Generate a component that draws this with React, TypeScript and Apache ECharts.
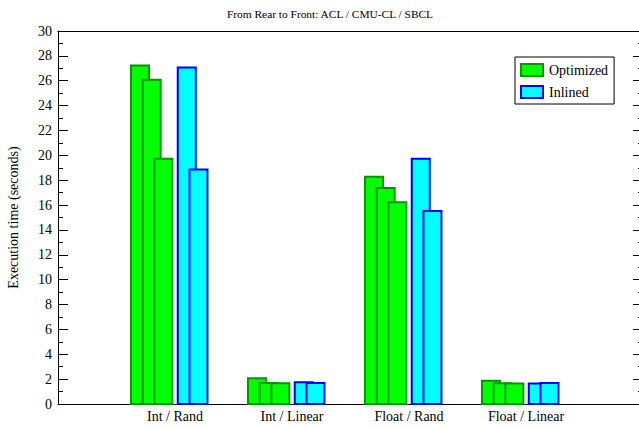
import React, { useEffect, useRef } from "react";
import * as echarts from "echarts";

// Benchmark categories along the x axis
const categories = ["Int / Rand", "Int / Linear", "Float / Rand", "Float / Linear"];

// Execution times in seconds, rear to front: ACL / CMU-CL / SBCL
const optimizedACL = [27.3, 2.15, 18.35, 1.96];
const optimizedCMUCL = [26.15, 1.77, 17.45, 1.74];
const optimizedSBCL = [19.8, 1.75, 16.3, 1.72];
const inlinedA = [27.15, 1.83, 19.8, 1.72];
const inlinedB = [18.95, 1.77, 15.6, 1.76];

const yTicks = { min: 0, max: 30, step: 2 };

const FONT = "'Liberation Serif', 'Times New Roman', serif";

const GREEN = "#00ff00";
const GREEN_EDGE = "#009600";
const CYAN = "#00ffff";
const CYAN_EDGE = "#0000ff";

// bars sit in slots 0.1 units apart, starting left of each category tick
const SLOT = 0.1;
const GROUP_START = -0.385;
const BAR_W = 0.171;

function barSeries(name: string, values: number[], slot: number, fill: string, edge: string) {
  return {
    type: "custom",
    name,
    itemStyle: { color: fill, borderColor: edge, borderWidth: 2 },
    data: values.map((v, i) => [i, v]),
    encode: { x: 0, y: 1 },
    renderItem: (params: any, api: any) => {
      const cat = api.value(0);
      const val = api.value(1);
      const x0 = cat + GROUP_START + slot * SLOT;
      const topLeft = api.coord([x0, val]);
      const bottomRight = api.coord([x0 + BAR_W, 0]);
      const lw = 2;
      return {
        type: "rect",
        shape: {
          x: topLeft[0] + lw / 2,
          y: topLeft[1] + lw / 2,
          width: bottomRight[0] - topLeft[0] - lw,
          height: bottomRight[1] - topLeft[1] - lw / 2,
        },
        style: { fill, stroke: edge, lineWidth: lw },
      };
    },
  };
}

export default function App() {
  const ref = useRef<HTMLDivElement>(null);

  useEffect(() => {
    if (!ref.current) return;
    const chart = echarts.init(ref.current, null, { renderer: "svg" });

    const yAxisBase = {
      type: "value",
      min: yTicks.min,
      max: yTicks.max,
      interval: yTicks.step,
      splitLine: { show: false },
      axisLine: { show: true, onZero: false, lineStyle: { color: "#000", width: 1 } },
      axisTick: { show: true, inside: true, length: 10, lineStyle: { color: "#000" } },
      minorTick: { show: true, splitNumber: 2, length: 5, lineStyle: { color: "#000" } },
    };

    chart.setOption({
      animation: false,
      backgroundColor: "#fff",
      // the frame's right edge runs just past the visible page
      grid: {
        left: 58,
        right: 0,
        top: 31,
        bottom: 25,
        containLabel: false,
        outerBoundsMode: "none",
      },
      graphic: [
        {
          type: "text",
          x: 330,
          y: 14,
          style: {
            text: "From Rear to Front: ACL / CMU-CL / SBCL",
            font: `11.4px ${FONT}`,
            fill: "#000",
            textAlign: "center",
            textVerticalAlign: "middle",
          },
        },
      ],
      legend: {
        orient: "vertical",
        left: 515,
        top: 57,
        padding: [6, 6, 5, 5],
        itemWidth: 22,
        itemHeight: 12,
        itemGap: 8,
        borderColor: "#000",
        borderWidth: 1,
        backgroundColor: "#fff",
        textStyle: { fontFamily: FONT, fontSize: 14, color: "#000", padding: [0, 0, 0, 1] },
        data: [
          { name: "Optimized", icon: "rect", itemStyle: { color: GREEN, borderColor: GREEN_EDGE, borderWidth: 2 } },
          { name: "Inlined", icon: "rect", itemStyle: { color: CYAN, borderColor: CYAN_EDGE, borderWidth: 2 } },
        ],
      },
      xAxis: [
        {
          type: "value",
          min: -1,
          max: 4,
          interval: 1,
          splitLine: { show: false },
          axisLine: { show: true, onZero: false, lineStyle: { color: "#000", width: 1 } },
          axisTick: { show: false },
          axisLabel: {
            margin: 5,
            fontFamily: FONT,
            fontSize: 14,
            color: "#000",
            formatter: (v: number) => (v >= 0 && v < categories.length ? categories[v] : ""),
          },
        },
        {
          type: "value",
          position: "top",
          min: -1,
          max: 4,
          splitLine: { show: false },
          axisLine: { show: true, onZero: false, lineStyle: { color: "#000", width: 1 } },
          axisTick: { show: false },
          axisLabel: { show: false },
        },
      ],
      yAxis: [
        {
          ...yAxisBase,
          position: "left",
          name: "Execution time (seconds)",
          nameLocation: "middle",
          nameGap: 38,
          nameTextStyle: { fontFamily: FONT, fontSize: 14, color: "#000" },
          axisLabel: { margin: 6, fontFamily: FONT, fontSize: 14, color: "#000" },
        },
        {
          ...yAxisBase,
          position: "right",
          axisLabel: { show: false },
        },
      ],
      series: [
        barSeries("Optimized", optimizedACL, 0, GREEN, GREEN_EDGE),
        barSeries("Optimized", optimizedCMUCL, 1, GREEN, GREEN_EDGE),
        barSeries("Optimized", optimizedSBCL, 2, GREEN, GREEN_EDGE),
        barSeries("Inlined", inlinedA, 4, CYAN, CYAN_EDGE),
        barSeries("Inlined", inlinedB, 5, CYAN, CYAN_EDGE),
      ],
    });

    return () => chart.dispose();
  }, []);

  return (
    <div style={{ position: "fixed", left: 0, top: 0, width: 639, height: 429, overflow: "hidden" }}>
      <div ref={ref} style={{ width: 643, height: 429 }} />
    </div>
  );
}
